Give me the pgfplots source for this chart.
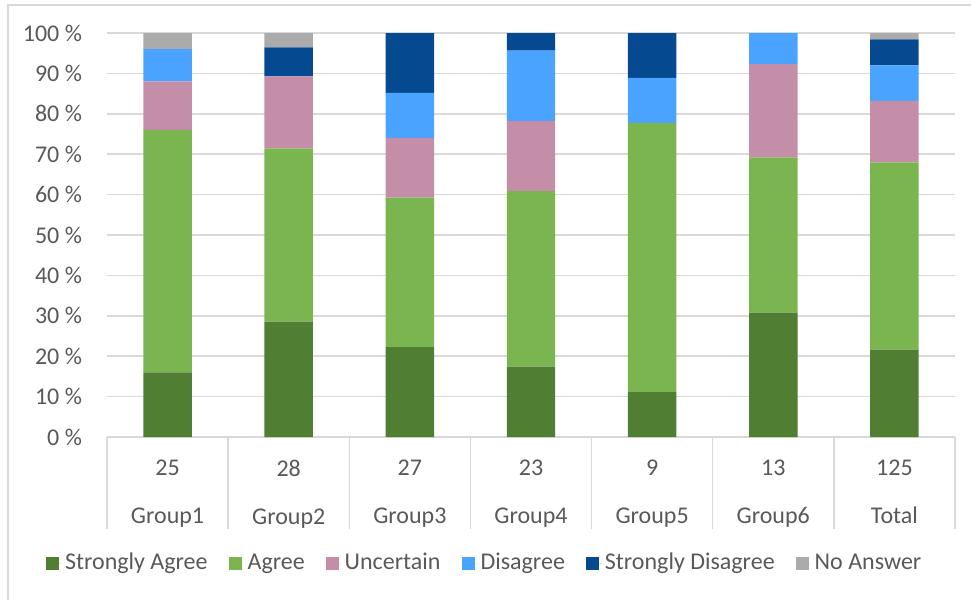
\documentclass[border=0pt]{standalone}
\usepackage{pgfplots}
\pgfplotsset{compat=1.18}
\usepackage{fontspec}
\setmainfont{Carlito}

\definecolor{txtgray}{RGB}{89,89,89}
\definecolor{gridgray}{RGB}{217,217,217}
\definecolor{cSA}{RGB}{80,126,50}
\definecolor{cA}{RGB}{122,181,80}
\definecolor{cU}{RGB}{196,142,169}
\definecolor{cD}{RGB}{74,163,255}
\definecolor{cSD}{RGB}{5,74,145}
\definecolor{cNA}{RGB}{171,171,171}

\begin{document}
\begin{tikzpicture}
% frame edges of the chart area
\useasboundingbox (-53.5pt,-81.5pt) rectangle (432pt,218.5pt);
\draw[gridgray,line width=0.6pt] (-49.5pt,-81.5pt) -- (-49.5pt,216pt) -- (432pt,216pt);
\begin{axis}[
  at={(0,0)}, anchor=south west,
  scale only axis, width=424pt, height=202pt,
  ybar stacked, bar width=0.4,
  xmin=-0.5, xmax=6.5, ymin=0, ymax=100,
  xtick={0,...,6},
  xticklabels={25\\[10pt]Group1, 28\\[10pt]Group2, 27\\[10pt]Group3, 23\\[10pt]Group4, 9\\[10pt]Group5, 13\\[10pt]Group6, 125\\[10pt]Total},
  xticklabel style={align=center, text=txtgray, font=\fontsize{12}{14}\selectfont, yshift=-8pt},
  ytick={0,10,...,100},
  yticklabels={0 \%,10 \%,20 \%,30 \%,40 \%,50 \%,60 \%,70 \%,80 \%,90 \%,100 \%},
  yticklabel style={text=txtgray, font=\fontsize{12}{14}\selectfont, xshift=-9pt},
  major tick length=0pt,
  axis line style={draw=none},
  ymajorgrids, grid style={gridgray, line width=0.75pt},
  clip=false,
  legend columns=6,
  legend style={at={(0.446,-0.312)}, anchor=center, draw=none, fill=none,
    font=\fontsize{12}{14}\selectfont, text=txtgray,
    /tikz/every even column/.append style={column sep=9pt},
    nodes={inner xsep=1.5pt}},
  legend image code/.code={\fill[#1] (0pt,-3.25pt) rectangle (6.5pt,3.25pt); \path (0pt,0pt) -- (8pt,0pt);},
  every axis plot/.append style={draw=none},
]
\addplot[fill=cSA] coordinates {(0,16) (1,28.57) (2,22.22) (3,17.39) (4,11.11) (5,30.77) (6,21.6)};
\addplot[fill=cA]  coordinates {(0,60) (1,42.86) (2,37.04) (3,43.48) (4,66.67) (5,38.46) (6,46.4)};
\addplot[fill=cU]  coordinates {(0,12) (1,17.86) (2,14.81) (3,17.39) (4,0) (5,23.08) (6,15.2)};
\addplot[fill=cD]  coordinates {(0,8) (1,0) (2,11.11) (3,17.39) (4,11.11) (5,7.69) (6,8.8)};
\addplot[fill=cSD] coordinates {(0,0) (1,7.14) (2,14.82) (3,4.35) (4,11.11) (5,0) (6,6.4)};
\addplot[fill=cNA] coordinates {(0,4) (1,3.57) (2,0) (3,0) (4,0) (5,0) (6,1.6)};
\legend{Strongly Agree, Agree, Uncertain, Disagree, Strongly Disagree, No Answer}
% separators of the category table
\pgfplotsinvokeforeach{-0.5,0.5,1.5,2.5,3.5,4.5,5.5,6.5}{
  \draw[gridgray, line width=0.75pt] (axis cs:#1,0) -- ++(0pt,-46pt);
}
\end{axis}
\end{tikzpicture}
\end{document}
